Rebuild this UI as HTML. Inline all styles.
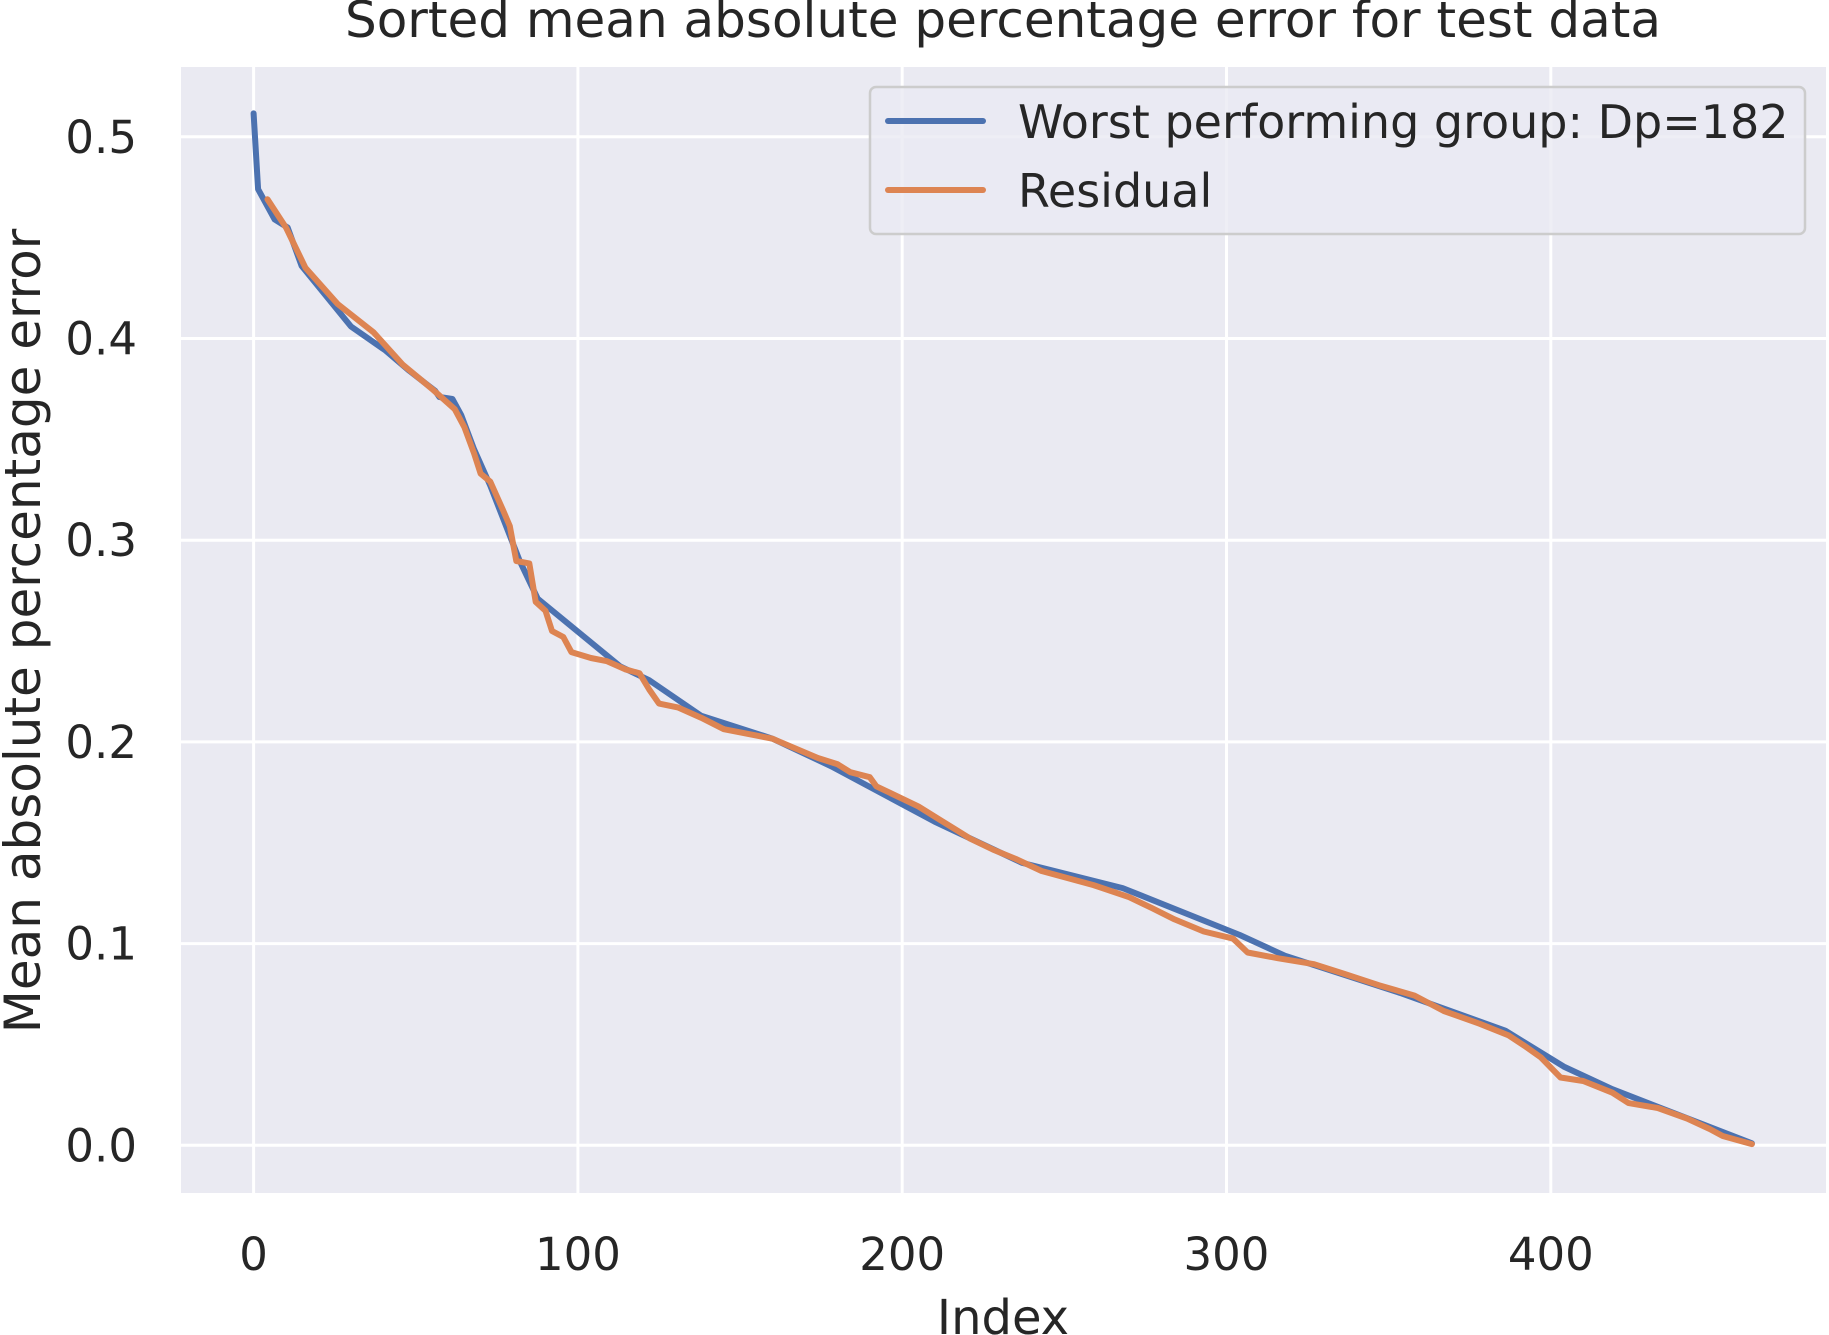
<!DOCTYPE html>
<html><head><meta charset="utf-8">
<style>
html,body{margin:0;padding:0;background:#fff;}
svg{display:block;}
text{font-family:"DejaVu Sans","Liberation Sans",sans-serif;fill:#262626;}
</style></head>
<body>
<svg id="chart" width="1829" height="1335" viewBox="0 0 1829 1335" xmlns="http://www.w3.org/2000/svg">
<rect x="181" y="67" width="1645" height="1126" fill="#eaeaf2"/>
<g id="grid"></g>
<g id="series"></g>
<g id="ticks"></g>
<text x="1003" y="37" font-size="50" text-anchor="middle">Sorted mean absolute percentage error for test data</text>
<text x="1003" y="1334" font-size="48" text-anchor="middle">Index</text>
<text transform="translate(40,631) rotate(-90)" font-size="50" text-anchor="middle">Mean absolute percentage error</text>
<g>
<rect x="870" y="87" width="935" height="147" rx="6" fill="#eaeaf2" fill-opacity="0.8" stroke="#cccccc" stroke-width="2.5"/>
<line x1="888" y1="121" x2="983" y2="121" stroke="#4c72b0" stroke-width="6" stroke-linecap="round"/>
<text x="1018" y="138" font-size="46">Worst performing group: Dp=182</text>
<line x1="888" y1="190" x2="983" y2="190" stroke="#dd8452" stroke-width="6" stroke-linecap="round"/>
<text x="1018" y="207" font-size="46">Residual</text>
</g>
</svg>
<script>
const xTicks = [0, 100, 200, 300, 400];
const yTicks = [0.0, 0.1, 0.2, 0.3, 0.4, 0.5];
const yTickLabels = ["0.0", "0.1", "0.2", "0.3", "0.4", "0.5"];
const worstIdx = [0,1.4,6.5,10.5,14.8,30,40.7,48,56,57.3,61.3,64,68,73,82,87.6,113,122,138,160,178,210,237,268,304,318,354,386,404,419,462];
const worstVal = [0.5116,0.474,0.459,0.455,0.436,0.406,0.394,0.384,0.374,0.371,0.370,0.362,0.345,0.327,0.290,0.271,0.2375,0.2306,0.213,0.2016,0.188,0.1605,0.140,0.1275,0.1043,0.094,0.0753,0.0568,0.039,0.0278,0.001];
const residIdx = [4.3,10,16,26,37,46,55,62,65,68,70,73,77,79,81,85,87,90,92,95.5,98,104,109,114.6,119,122,125,131,138,145,160,174,180,184,190,192,205,212,217,221,228,235,243,259,270,277,284,293,302,306.5,316,327,336,347,358,367,378,387,392,397,403,410,419,424,433,442,449,453,462];
const residVal = [0.469,0.455,0.435,0.417,0.403,0.387,0.375,0.365,0.356,0.343,0.333,0.329,0.3146,0.307,0.2897,0.2885,0.2694,0.265,0.255,0.252,0.2445,0.2416,0.240,0.236,0.234,0.226,0.219,0.217,0.212,0.2063,0.2016,0.192,0.189,0.185,0.1825,0.178,0.168,0.161,0.156,0.152,0.1466,0.142,0.136,0.129,0.123,0.1176,0.112,0.106,0.1025,0.0956,0.0927,0.0898,0.0852,0.0794,0.0742,0.0666,0.0603,0.0545,0.0492,0.0435,0.0336,0.0319,0.0261,0.0209,0.0185,0.0133,0.0081,0.0046,0.0006];

const NS = "http://www.w3.org/2000/svg";
const X0 = 253.6, XS = 3.243, Y0 = 1145.3, YS = 2017;
function xs(v){ return X0 + v * XS; }
function ys(v){ return Y0 - v * YS; }
const grid = document.getElementById('grid');
const ticks = document.getElementById('ticks');
xTicks.forEach(t => {
  const l = document.createElementNS(NS,'line');
  l.setAttribute('x1', xs(t)); l.setAttribute('x2', xs(t));
  l.setAttribute('y1', 67); l.setAttribute('y2', 1193);
  l.setAttribute('stroke', '#fff'); l.setAttribute('stroke-width', 3);
  
  
  grid.appendChild(l);
  const tx = document.createElementNS(NS,'text');
  tx.setAttribute('x', xs(t)); tx.setAttribute('y', 1270);
  tx.setAttribute('font-size', 45); tx.setAttribute('text-anchor', 'middle');
  tx.textContent = String(t);
  
  
  ticks.appendChild(tx);
});
yTicks.forEach((t, i) => {
  const l = document.createElementNS(NS,'line');
  l.setAttribute('x1', 181); l.setAttribute('x2', 1826);
  l.setAttribute('y1', ys(t)); l.setAttribute('y2', ys(t));
  l.setAttribute('stroke', '#fff'); l.setAttribute('stroke-width', 3);
  
  
  grid.appendChild(l);
  const tx = document.createElementNS(NS,'text');
  tx.setAttribute('x', 137); tx.setAttribute('y', ys(t) + 16);
  tx.setAttribute('font-size', 45); tx.setAttribute('text-anchor', 'end');
  tx.textContent = yTickLabels[i];
  
  
  ticks.appendChild(tx);
});
function drawLine(xsArr, ysArr, color, name){
  const p = document.createElementNS(NS,'polyline');
  p.setAttribute('points', xsArr.map((x,i) => xs(x).toFixed(1) + ',' + ys(ysArr[i]).toFixed(1)).join(' '));
  p.setAttribute('fill', 'none'); p.setAttribute('stroke', color);
  p.setAttribute('stroke-width', 6); p.setAttribute('stroke-linejoin', 'round'); p.setAttribute('stroke-linecap', 'round');
  
  
  document.getElementById('series').appendChild(p);
}
drawLine(worstIdx, worstVal, '#4c72b0', 'worst-group-line');
drawLine(residIdx, residVal, '#dd8452', 'residual-line');
</script>
</body></html>
